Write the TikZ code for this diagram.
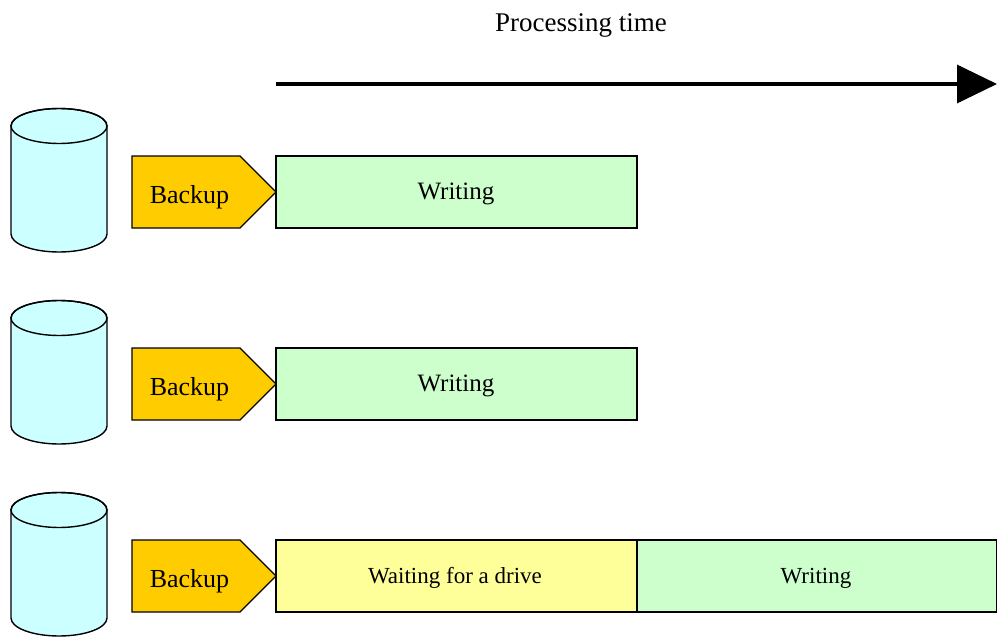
\documentclass[tikz,border=0pt]{standalone}
\usepackage{fontspec}
\setmainfont{Liberation Serif}
\usetikzlibrary{arrows.meta}
\definecolor{cylfill}{HTML}{CCFFFF}
\definecolor{bkfill}{HTML}{FFCC00}
\definecolor{wrfill}{HTML}{CCFFCC}
\definecolor{wtfill}{HTML}{FFFF99}
\tikzset{
  outl/.style={draw=black, line width=1.2pt},
  cyl/.style={outl, fill=cylfill, line width=1.4pt},
  bkshape/.style={outl, fill=bkfill, line join=miter},
  wbox/.style={outl, fill=wrfill, minimum height=72pt, inner sep=0pt},
  ybox/.style={outl, fill=wtfill, minimum height=72pt, inner sep=0pt},
  bktext/.style={anchor=base, inner sep=0pt, font=\fontsize{26}{30}\selectfont},
  wtext/.style={anchor=base, inner sep=0pt, font=\fontsize{25}{30}\selectfont},
  stext/.style={anchor=base, inner sep=0pt, font=\fontsize{23}{28}\selectfont},
  timeline/.style={line width=3.5pt, -{Triangle[length=40pt,width=38pt]}}
}
\begin{document}
\begin{tikzpicture}[x=1pt,y=-1pt]
\useasboundingbox (0,0) rectangle (997,637);
% title and time arrow
\node[anchor=base, inner sep=0pt, font=\fontsize{27}{32}\selectfont] (title) at (581,31) {Processing time};
\coordinate (t0) at (276,84);
\coordinate (t1) at (997,84);
\draw[timeline] (t0) -- (t1);
% rows
\foreach \r/\yc in {1/192,2/384,3/576}{
  % cylinder
  \filldraw[cyl] (11,\yc-66) -- (11,\yc+42)
     arc[start angle=180, end angle=360, x radius=48pt, y radius=18pt]
     -- (107,\yc-66)
     arc[start angle=0, end angle=180, x radius=48pt, y radius=17.5pt] -- cycle;
  \draw[cyl, fill=none] (59,\yc-66) ellipse[x radius=48pt, y radius=17.5pt];
  % backup pentagon
  \filldraw[bkshape] (132,\yc-36) -- (240,\yc-36) -- (276,\yc) -- (240,\yc+36) -- (132,\yc+36) -- cycle;
  \node[bktext] (bk\r) at (189.5,\yc+11) {Backup};
}
% writing boxes rows 1 and 2
\node[wbox, minimum width=361pt] (w1) at (456.5,192) {};
\node[wtext] (w1t) at (456,199) {Writing};
\node[wbox, minimum width=361pt] (w2) at (456.5,384) {};
\node[wtext] (w2t) at (456,391) {Writing};
% row 3
\node[ybox, minimum width=361pt] (wait3) at (456.5,576) {};
\node[stext] (wait3t) at (455,583) {Waiting for a drive};
\node[wbox, minimum width=360pt] (w3) at (817,576) {};
\node[stext] (w3t) at (816,583) {Writing};
\end{tikzpicture}
\end{document}
